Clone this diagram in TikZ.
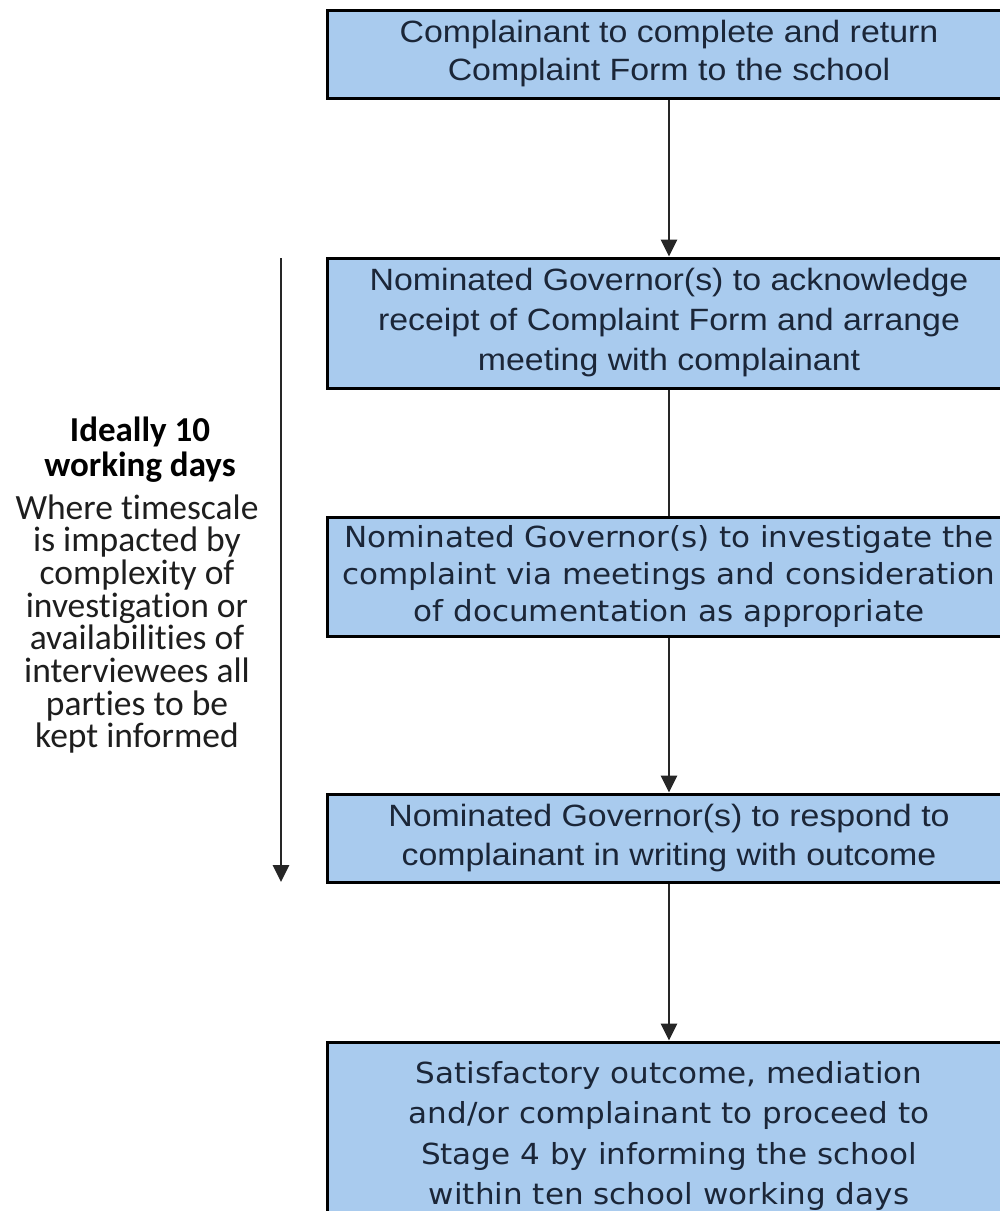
\documentclass[tikz,border=0pt]{standalone}
\usepackage{fontspec}
\usetikzlibrary{arrows.meta}
\newfontfamily\arialfont[FakeStretch=1.1]{Liberation Sans}
\newfontfamily\verdfont[FakeStretch=1.07]{DejaVu Sans}
\newfontfamily\calfont[Ligatures=NoCommon]{Carlito}
\definecolor{boxfill}{HTML}{A9CBEE}
\definecolor{boxtext}{HTML}{1B2638}
\definecolor{sidetext}{HTML}{1E1E1E}
\begin{document}
\begin{tikzpicture}[x=1pt,y=-1pt,
  flowbox/.style={draw=black, line width=3pt, fill=boxfill, minimum width=684pt,
    inner sep=0pt, text=boxtext, align=center},
  arialtxt/.style={font=\arialfont\fontsize{30.8}{38}\selectfont},
  link/.style={draw=black!85, line width=2.8pt},
  tip/.style={-{Triangle[length=17pt,width=16pt]}}
]
\useasboundingbox (0,0) rectangle (1000,1211);
\clip (0,0) rectangle (1000,1211);
\fill[white] (0,0) rectangle (1000,1211);

% flow steps
\node[flowbox, arialtxt, minimum height=88pt] (b1) at (669,54)
  {Complainant to complete and return\\Complaint Form to the school};
\node[flowbox, arialtxt, minimum height=130pt, font=\arialfont\fontsize{30.8}{40}\selectfont] (b2) at (669,323)
  {Nominated Governor(s) to acknowledge\\receipt of Complaint Form and arrange\\meeting with complainant};
\node[flowbox, minimum height=119pt, font=\verdfont\fontsize{29}{37}\selectfont] (b3) at (669,576.5)
  {Nominated Governor(s) to investigate the\\complaint via meetings and consideration\\of documentation as appropriate};
\node[flowbox, arialtxt, minimum height=88pt, font=\arialfont\fontsize{30.8}{39}\selectfont] (b4) at (669,838)
  {Nominated Governor(s) to respond to\\complainant in writing with outcome};
\node[flowbox, minimum height=202pt] (b5) at (669,1143) {};
\node[text=boxtext, align=center, font=\verdfont\fontsize{29}{40.3}\selectfont] (b5text) at (669,1136)
  {Satisfactory outcome, mediation\\and/or complainant to proceed to\\Stage 4 by informing the school\\within ten school working days};

% connectors
\draw[link,tip] (b1) -- (b2);
\draw[link] (b2) -- (b3);
\draw[link,tip] (b3) -- (b4);
\draw[link,tip] (b4) -- (b5);

% timescale arrow
\coordinate (tl0) at (281,258);
\coordinate (tl1) at (281,882);
\draw[link,tip] (tl0) -- (tl1);

% timescale notes
\node[font=\calfont\bfseries\fontsize{35}{35}\selectfont, text=black, align=center] (head) at (140,450)
  {Ideally 10\\working days};
\node[font=\calfont\fontsize{35.5}{32.7}\selectfont, text=sidetext, align=center] (note) at (137,624)
  {Where timescale\\is impacted by\\complexity of\\investigation or\\availabilities of\\interviewees all\\parties to be\\kept informed};
\end{tikzpicture}
\end{document}
